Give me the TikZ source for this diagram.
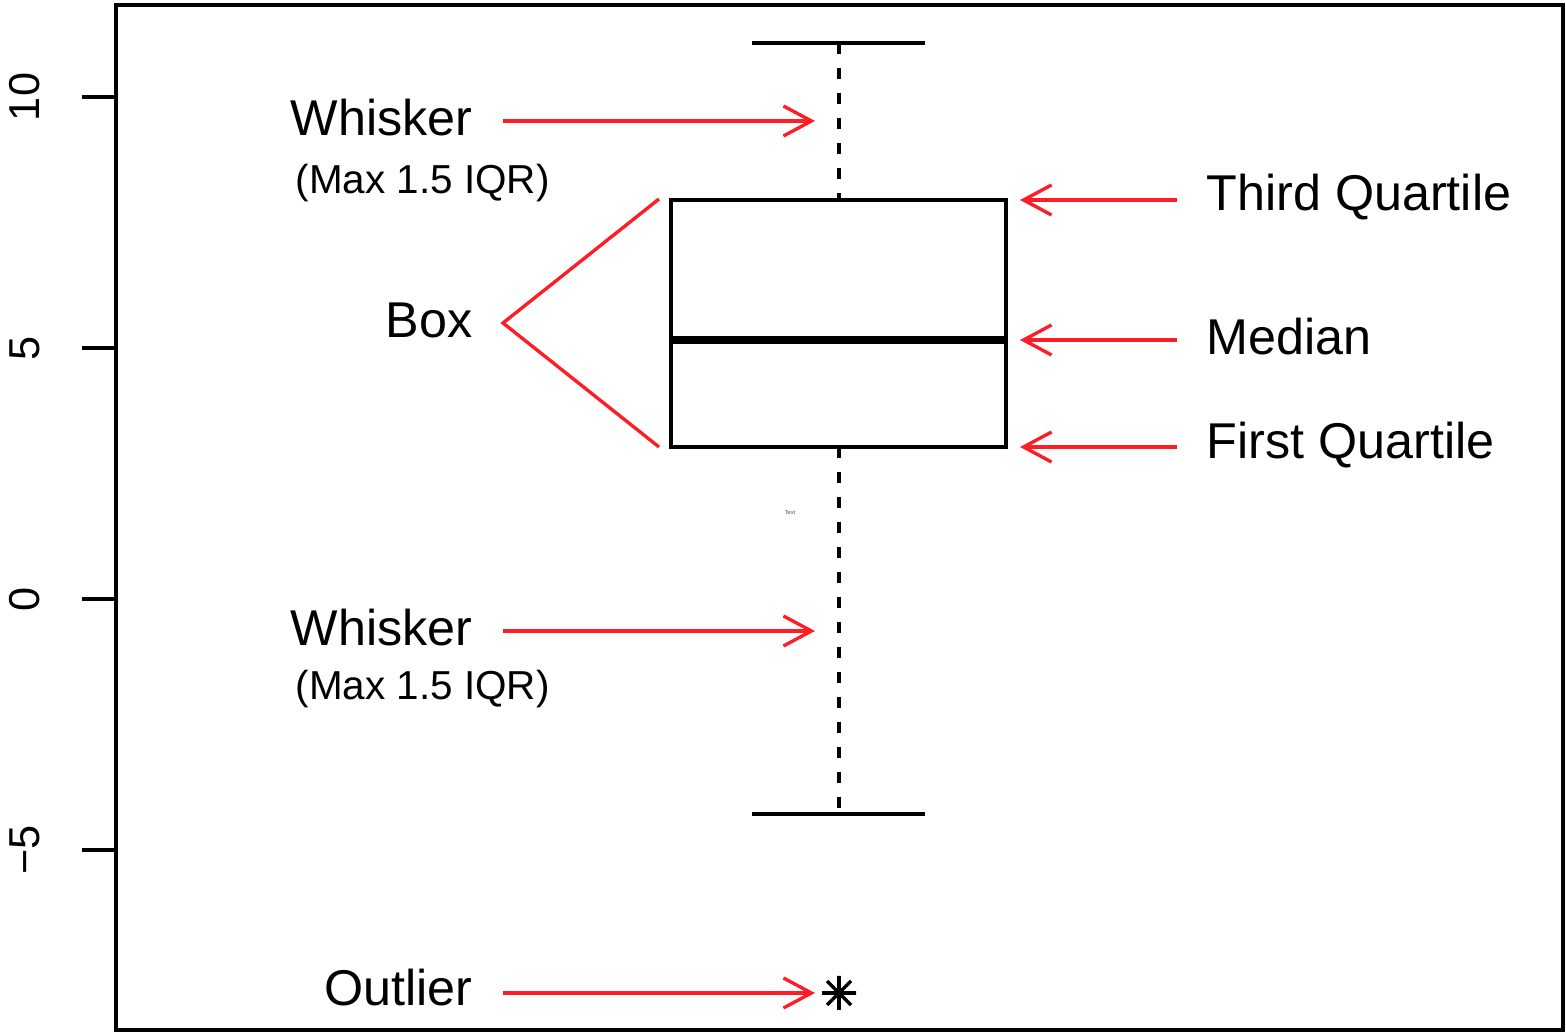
\documentclass[tikz,border=0pt]{standalone}
\usepackage{fontspec}
\setmainfont{Liberation Sans}
\usetikzlibrary{arrows.meta,positioning}
\definecolor{myred}{HTML}{FF1C24}

\begin{document}
\begin{tikzpicture}[
    x=0.01cm, y=-0.01cm,
    every node/.style={inner sep=0pt},
    plotline/.style={line width=1pt, line cap=rect},
    whiskline/.style={line width=1pt, dash pattern=on 3.2pt off 3.9pt},
    redarrow/.style={myred, line width=0.95pt, -{Straight Barb[length=0.28cm,width=0.30cm]}},
    redline/.style={myred, line width=0.95pt},
    lbl/.style={font=\fontsize{14.3}{17}\selectfont},
    sublbl/.style={font=\fontsize{11.5}{14}\selectfont},
    ticklbl/.style={font=\fontsize{12.3}{14}\selectfont, rotate=90}
    ]
  \useasboundingbox (0,0) rectangle (1566,1034);
  % frame and axis
  \draw[plotline] (116,5) rectangle (1563,1030);
  \foreach \v/\t in {10/10, 5/5, 0/0, -5/−5} {
    \draw[plotline] (84,599-50.2*\v) -- (116,599-50.2*\v);
    \node[ticklbl] (tick\v) at (25,599-50.2*\v) {\t};
  }
  % box
  \coordinate (q3l) at (671,200);
  \coordinate (q3r) at (1006,200);
  \coordinate (q1l) at (671,447);
  \coordinate (q1r) at (1006,447);
  \coordinate (medl) at (671,340);
  \coordinate (medr) at (1006,340);
  \draw[plotline] (q1l) rectangle (q3r);
  \draw[line width=2.3pt] (medl) -- (medr);
  % whiskers
  \coordinate (capt) at (839,43);
  \coordinate (capb) at (839,814);
  \draw[whiskline] (capt) -- (839,200);
  \draw[whiskline] (839,447) -- (capb);
  \draw[plotline] (754,43) -- (923,43);
  \draw[plotline] (754,814) -- (923,814);
  % outlier
  \coordinate (out) at (839,993);
  \draw[line width=1pt] ([shift={(-17,0)}]out) -- ([shift={(17,0)}]out)
    ([shift={(0,-17)}]out) -- ([shift={(0,17)}]out)
    ([shift={(-12,-12)}]out) -- ([shift={(12,12)}]out)
    ([shift={(-12,12)}]out) -- ([shift={(12,-12)}]out);
  \node[font=\fontsize{1.6}{2}\selectfont, text=black!70] (tiny) at (790,513) {Text};
  % labels left
  \node[lbl, anchor=east] (wup) at (473,118) {Whisker};
  \node[sublbl, anchor=west] (wupsub) at (295,183) {(Max 1.5 IQR)};
  \node[lbl, anchor=east] (box) at (473,320) {Box};
  \node[lbl, anchor=east] (wlo) at (473,628) {Whisker};
  \node[sublbl, anchor=west] (wlosub) at (295,689) {(Max 1.5 IQR)};
  \node[lbl, anchor=east] (outl) at (473,988) {Outlier};
  % labels right
  \node[lbl, anchor=west] (third) at (1206,197) {Third Quartile};
  \node[lbl, anchor=west] (med) at (1206,337) {Median};
  \node[lbl, anchor=west] (first) at (1206,445) {First Quartile};
  % red pointers
  \coordinate (wupa) at (503,121);
  \coordinate (wupb) at (815,121);
  \coordinate (wloa) at (503,631);
  \coordinate (wlob) at (815,631);
  \coordinate (outa) at (503,993);
  \coordinate (outb) at (815,993);
  \draw[redarrow] (wupa) -- (wupb);
  \draw[redarrow] (wloa) -- (wlob);
  \draw[redarrow] (outa) -- (outb);
  \coordinate (boxtip) at (503,323);
  \draw[redline] (659,199) -- (boxtip) -- (659,447);
  \foreach \y/\n in {200/third, 340/med, 447/first}
    \draw[redarrow] (1177,\y) -- (1020,\y);
\end{tikzpicture}
\end{document}
